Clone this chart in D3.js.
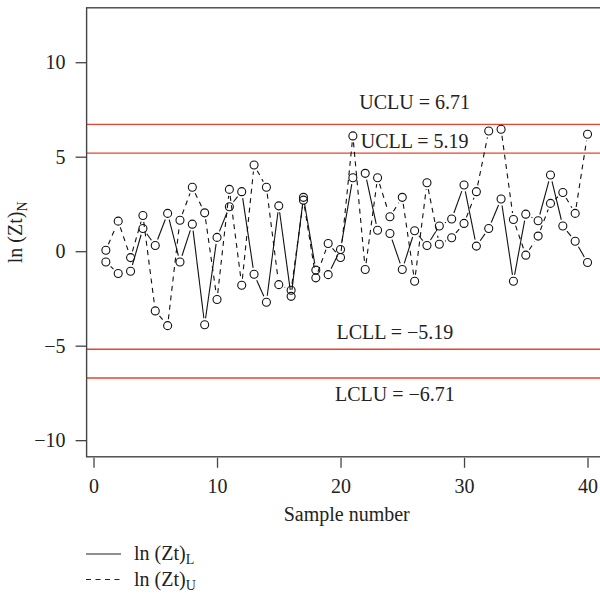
<!DOCTYPE html>
<html>
<head>
<meta charset="utf-8">
<script src="https://cdn.jsdelivr.net/npm/d3@7"></script>
<style>
  body { margin: 0; background: #fff; }
  text { font-family: "Liberation Serif", "Times New Roman", serif; fill: #222; }
</style>
</head>
<body>
<svg id="chart"></svg>
<script>
// sample numbers and the two log series
const samples = [1, 2, 3, 4, 5, 6, 7, 8, 9, 10, 11, 12, 13, 14, 15, 16, 17, 18, 19, 20,
                 21, 22, 23, 24, 25, 26, 27, 28, 29, 30, 31, 32, 33, 34, 35, 36, 37, 38, 39, 40];
const lnZtL = [-0.57, -1.18, -1.06, 1.20, 0.30, 2.00, -0.57, 1.43, -3.89, 0.73,
               2.35, 3.15, -1.22, -2.70, 2.40, -2.39, 2.85, -1.00, -1.24, 0.09,
               3.89, 4.12, 1.11, 0.94, -0.97, 1.08, 0.30, 1.33, 1.70, 3.50,
               0.27, 1.20, 2.76, -1.59, 1.96, 1.61, 4.03, 1.33, 0.53, -0.60];
const lnZtU = [0.05, 1.59, -0.34, 1.89, -3.16, -3.94, 1.64, 3.38, 2.03, -2.56,
               3.27, -1.80, 4.56, 3.38, -1.77, -2.07, 2.70, -1.41, 0.41, -0.33,
               6.10, -0.97, 3.89, 1.82, 2.85, -1.59, 3.62, 0.37, 0.71, 1.47,
               3.15, 6.36, 6.45, 1.68, -0.21, 0.80, 2.53, 3.11, 2.00, 6.19];

// control limits
const limitNames = ["UCLU", "UCLL", "LCLL", "LCLU"];
const limitValues = [6.71, 5.19, -5.19, -6.71];

const xTicks = [0, 10, 20, 30, 40];
const yTicks = [-10, -5, 0, 5, 10];

// layout
const width = 600, height = 594;
const fontSize = 20;
const labelX = [26, 26, 24.4, 24.4];      // limit label centers (data units)
const labelY = [7.9, 5.8, -4.3, -7.6];
const gap = 6.5;                            // gap left around each point (type "b")

const svg = d3.select("#chart").attr("width", width).attr("height", height);

const x = d3.scaleLinear().domain([-0.56, 41.56]).range([86.6, 606.8]);
const y = d3.scaleLinear().domain([-10.88, 12.88]).range([456.8, 7.8]);

const fmt = d => d3.format("d")(d);

// control limit lines
svg.append("g").selectAll("line")
  .data(limitValues)
  .join("line")
  .attr("x1", x.range()[0]).attr("x2", x.range()[1])
  .attr("y1", d => y(d)).attr("y2", d => y(d))
  .attr("stroke", "#e8432d").attr("stroke-width", 1.3);

svg.append("g").selectAll("text")
  .data(limitNames)
  .join("text")
  .attr("x", (d, i) => x(labelX[i]))
  .attr("y", (d, i) => y(labelY[i]))
  .attr("dy", "0.33em")
  .attr("text-anchor", "middle")
  .attr("font-size", fontSize)
  .text((d, i) => d + " = " + (limitValues[i] < 0 ? "\u2212" + (-limitValues[i]).toFixed(2) : limitValues[i].toFixed(2)));

// series: segments with gaps around the markers, then hollow circles
function drawSeries(values, dash) {
  const pts = samples.map((s, i) => [x(s), y(values[i])]);
  const segs = [];
  for (let i = 0; i < pts.length - 1; i++) {
    const [x1, y1] = pts[i], [x2, y2] = pts[i + 1];
    const len = Math.hypot(x2 - x1, y2 - y1);
    if (len <= 2 * gap) continue;
    const ux = (x2 - x1) / len, uy = (y2 - y1) / len;
    segs.push([x1 + ux * gap, y1 + uy * gap, x2 - ux * gap, y2 - uy * gap]);
  }
  const g = svg.append("g");
  g.selectAll("line")
    .data(segs)
    .join("line")
    .attr("x1", d => d[0]).attr("y1", d => d[1])
    .attr("x2", d => d[2]).attr("y2", d => d[3])
    .attr("stroke", "#111").attr("stroke-width", 1.1)
    .attr("stroke-dasharray", dash);
  g.selectAll("circle")
    .data(pts)
    .join("circle")
    .attr("cx", d => d[0]).attr("cy", d => d[1])
    .attr("r", 4)
    .attr("fill", "none")
    .attr("stroke", "#111").attr("stroke-width", 1.1);
}
drawSeries(lnZtL, null);
drawSeries(lnZtU, "5,4.5");

// box
svg.append("rect")
  .attr("x", x.range()[0]).attr("y", y.range()[1])
  .attr("width", x.range()[1] - x.range()[0])
  .attr("height", y.range()[0] - y.range()[1])
  .attr("fill", "none").attr("stroke", "#444").attr("stroke-width", 1.4);

// axes
const yAxis = svg.append("g")
  .attr("transform", `translate(${x.range()[0]},0)`)
  .call(d3.axisLeft(y).tickValues(yTicks).tickSize(11).tickPadding(10).tickFormat(fmt));
const xAxis = svg.append("g")
  .attr("transform", `translate(0,${y.range()[0] + 1})`)
  .call(d3.axisBottom(x).tickValues(xTicks).tickSize(10).tickPadding(11).tickFormat(fmt));
[yAxis, xAxis].forEach(a => {
  a.select(".domain").remove();
  a.selectAll("line").attr("stroke", "#444").attr("stroke-width", 1.3);
  a.selectAll("text").attr("font-size", fontSize).attr("fill", "#222")
    .attr("font-family", "Liberation Serif, Times New Roman, serif");
});

// axis titles
svg.append("text")
  .attr("x", (x.range()[0] + x.range()[1]) / 2)
  .attr("y", 521)
  .attr("text-anchor", "middle")
  .attr("font-size", fontSize)
  .text("Sample number");

const yTitle = svg.append("text")
  .attr("transform", `translate(22,${(y.range()[0] + y.range()[1]) / 2}) rotate(-90)`)
  .attr("text-anchor", "middle")
  .attr("font-size", fontSize);
yTitle.append("tspan").text("ln (Zt)");
yTitle.append("tspan").attr("dy", 5).attr("font-size", 14).text("N");

// legend
const legendNames = ["L", "U"];
const legendDash = [null, "5,4.5"];
const legend = svg.append("g");
legendNames.forEach((name, i) => {
  const ly = 554 + i * 25.5;
  legend.append("line")
    .attr("x1", 86).attr("x2", 121)
    .attr("y1", ly).attr("y2", ly)
    .attr("stroke", "#222").attr("stroke-width", 1.1)
    .attr("stroke-dasharray", legendDash[i]);
  const t = legend.append("text")
    .attr("x", 134).attr("y", ly + 6)
    .attr("font-size", fontSize);
  t.append("tspan").text("ln (Zt)");
  t.append("tspan").attr("dy", 4).attr("font-size", 14).text(name);
});
</script>
</body>
</html>
